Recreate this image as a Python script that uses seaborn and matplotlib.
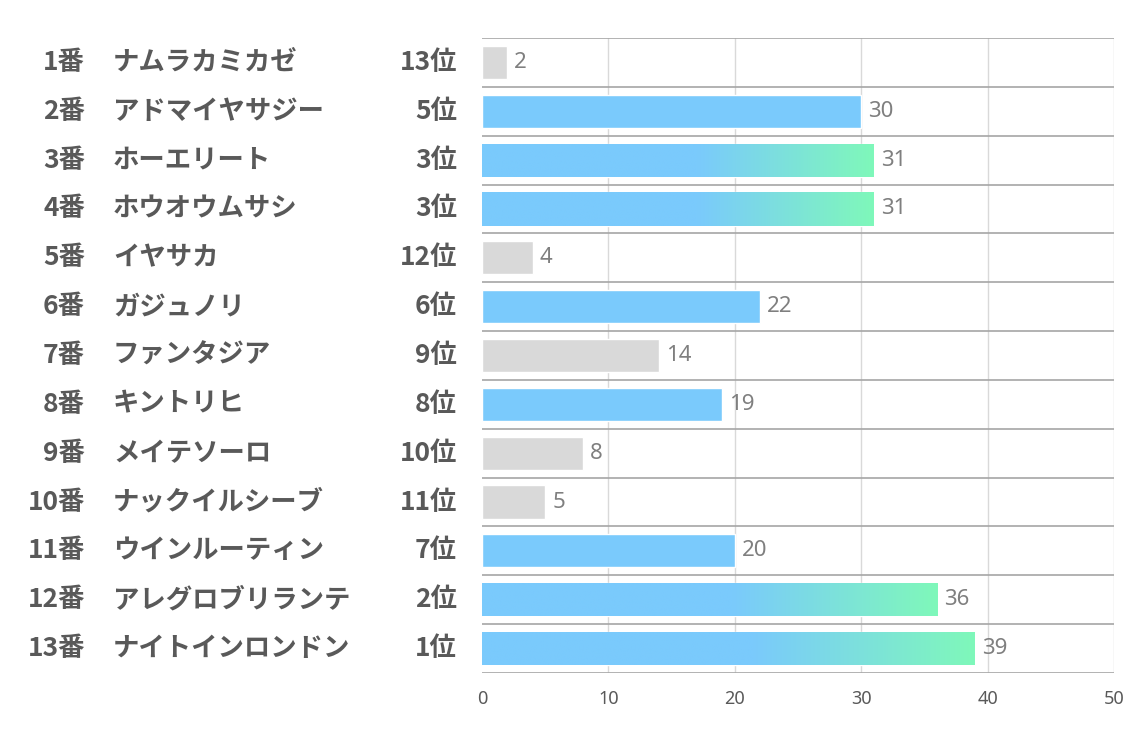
import numpy as np
import pandas as pd
import matplotlib
matplotlib.use("Agg")
import matplotlib.pyplot as plt
import matplotlib.transforms as mtransforms
import seaborn as sns

# ---- data ----
numbers = ["1番", "2番", "3番", "4番", "5番", "6番", "7番", "8番", "9番", "10番", "11番", "12番", "13番"]
names = ["ナムラカミカゼ", "アドマイヤサジー", "ホーエリート", "ホウオウムサシ", "イヤサカ", "ガジュノリ",
         "ファンタジア", "キントリヒ", "メイテソーロ", "ナックイルシーブ", "ウインルーティン",
         "アレグロブリランテ", "ナイトインロンドン"]
ranks = ["13位", "5位", "3位", "3位", "12位", "6位", "9位", "8位", "10位", "11位", "7位", "2位", "1位"]
rank_values = [13, 5, 3, 3, 12, 6, 9, 8, 10, 11, 7, 2, 1]
values = [2, 30, 31, 31, 4, 22, 14, 19, 8, 5, 20, 36, 39]
x_ticks = [0, 10, 20, 30, 40, 50]

sns.set_theme(style="white")
plt.rcParams['font.family'] = ['Noto Sans CJK JP', 'DejaVu Sans']

GRAY = "#d9d9d9"
BLUE = np.array([122, 202, 252]) / 255
GREEN = np.array([127, 248, 186]) / 255

df = pd.DataFrame({"label": names, "value": values, "rank": rank_values})
df["color"] = ["blue" if r <= 8 else "gray" for r in rank_values]

fig = plt.figure(figsize=(11.34, 7.37), dpi=100)
W, H = 1134, 737
L, R, T, B = 482, 1114, 38, 673
ax = fig.add_axes([L / W, 1 - B / H, (R - L) / W, (B - T) / H])

BAR_H = 0.68
sns.barplot(data=df, y="label", x="value", hue="color", palette={"blue": BLUE, "gray": GRAY},
            orient="h", width=BAR_H, ax=ax, legend=False, saturation=1, zorder=2)

n = len(values)
ax.set_xlim(0, 50)
ax.set_ylim(n - 0.5, -0.5)

# gradient overlays for top-3 ranks
t = np.linspace(0, 1, 256)
frac = np.clip((t - 0.55) / 0.45, 0, 1)
grad = (BLUE[None, :] * (1 - frac[:, None]) + GREEN[None, :] * frac[:, None])[None, :, :]
for p in ax.patches:
    w = p.get_width()
    yc = p.get_y() + p.get_height() / 2
    idx = int(round(yc))
    if 0 <= idx < n and rank_values[idx] <= 3:
        im = ax.imshow(grad, extent=[0, w, p.get_y() + p.get_height(), p.get_y()],
                       aspect="auto", zorder=3, interpolation="bilinear")
        im.set_clip_path(p)
ax.set_xlim(0, 50)
ax.set_ylim(n - 0.5, -0.5)

# grid
for xv in x_ticks[1:]:
    ax.axvline(xv, color="#d9d9d9", lw=1, zorder=1)
for yv in np.arange(-0.5, n, 1.0):
    ax.axhline(yv, color="#a6a6a6", lw=1.2, zorder=1)

for s in ax.spines.values():
    s.set_visible(False)

ax.set_xticks(x_ticks)
ax.set_xticklabels([str(v) for v in x_ticks], color="#595959", fontsize=13,
                   family=['Noto Sans', 'DejaVu Sans'])
ax.tick_params(axis="x", length=0, pad=12)
ax.set_yticks([])
ax.set_xlabel("")
ax.set_ylabel("")

# value labels
for i, v in enumerate(values):
    ax.annotate(str(v), (v, i), xytext=(5, 0), textcoords="offset points",
                va="center", ha="left", fontsize=16, color="#7f7f7f",
                family=['Noto Sans', 'DejaVu Sans'])

# left labels
trans = mtransforms.blended_transform_factory(ax.transAxes, ax.transData)
x_num = (85 - L) / (R - L)
x_name = (113 - L) / (R - L)
x_rank = (457 - L) / (R - L)
FS = 19
for i in range(n):
    ax.text(x_num, i, numbers[i], transform=trans, ha="right", va="center",
            fontsize=FS, fontweight="bold", color="#595959")
    ax.text(x_name, i, names[i], transform=trans, ha="left", va="center",
            fontsize=FS, fontweight="bold", color="#595959")
    ax.text(x_rank, i, ranks[i], transform=trans, ha="right", va="center",
            fontsize=FS, fontweight="bold", color="#595959")

fig.savefig("out.png", dpi=100, facecolor="white")
